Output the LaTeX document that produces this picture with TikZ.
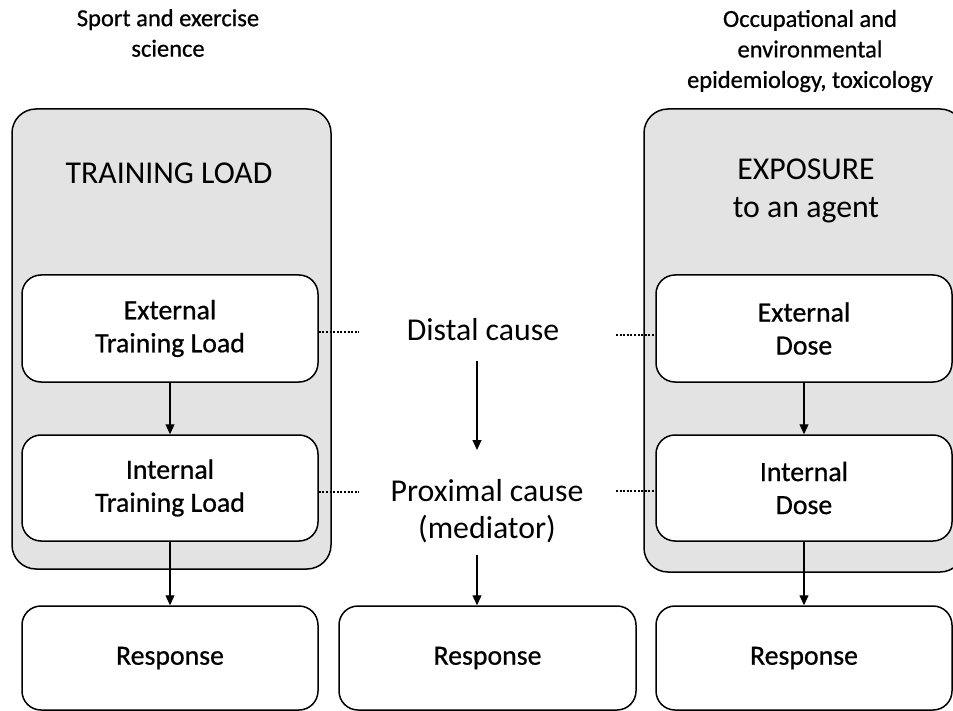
\documentclass[tikz,border=0pt]{standalone}
\usepackage{fontspec}
\setmainfont{Carlito}
\newfontfamily\medfont{Carlito}[FakeBold=0.7]
\usetikzlibrary{arrows.meta}
\definecolor{panelgray}{RGB}{227,227,227}
\begin{document}
\begin{tikzpicture}[x=1pt,y=-1pt,
  panel/.style={draw=black,line width=1.5pt,fill=panelgray,rounded corners=24pt,inner sep=0pt},
  box/.style={draw=black,line width=1.5pt,fill=white,rounded corners=19pt,inner sep=0pt,
    minimum width=296pt,align=center,font=\medfont\fontsize{27.8}{33}\selectfont},
  big/.style={align=center,font=\fontsize{31.8}{37.5}\selectfont},
  head/.style={align=center,font=\medfont\fontsize{24.5}{30.5}\selectfont},
  arr/.style={line width=1.2pt,-{Triangle[width=9pt,length=10pt]}},
  dots/.style={line width=2.2pt,dash pattern=on 2pt off 1.6pt}]
\path[use as bounding box,clip] (0,0) rectangle (953,711);
% panels
\node[panel,minimum width=319pt,minimum height=460pt] (lp) at (171.5,339) {};
\node[panel,minimum width=320pt,minimum height=463pt] (rp) at (804,340.5) {};
% headers
\node[head] (lh) at (168,33) {Sport and exercise\\science};
\node[head] (rh) at (810,51) {Occupational and\\environmental\\epidemiology, toxicology};
% panel titles
\node[big] (lt) at (169,173) {TRAINING LOAD};
\node[big] (rt) at (806,191) {EXPOSURE\\to an agent};
% inner boxes
\node[box,minimum height=107pt] (le) at (170,328.5) {External\\Training Load};
\node[box,minimum height=106pt] (li) at (170,488) {Internal\\Training Load};
\node[box,minimum height=107pt] (re) at (804,328.5) {External\\Dose};
\node[box,minimum height=106pt] (ri) at (804,488) {Internal\\Dose};
% responses
\node[box,minimum height=104pt] (lr) at (170,658) {Response};
\node[box,minimum width=297pt,minimum height=104pt] (cr) at (487.5,658) {Response};
\node[box,minimum height=104pt] (rr) at (804,658) {Response};
% middle texts
\node[big] (dc) at (483,330) {Distal cause};
\node[big] (pc) at (487,511) {Proximal cause\\(mediator)};
% arrows
\draw[arr] (le.south) -- (li.north);
\draw[arr] (li.south) -- (lr.north);
\draw[arr] (re.south) -- (ri.north);
\draw[arr] (ri.south) -- (rr.north);
\coordinate (d1) at (477,361);
\coordinate (d2) at (477,450);
\coordinate (p1) at (477,555);
\draw[arr] (d1) -- (d2);
\draw[arr] (p1) -- (p1 |- cr.north);
% dotted links
\coordinate (ld1) at (359,332);
\coordinate (ld2) at (359,492);
\coordinate (rd1) at (616,335);
\coordinate (rd2) at (616,491);
\draw[dots] (le.east |- ld1) -- (ld1);
\draw[dots] (li.east |- ld2) -- (ld2);
\draw[dots] (rd1) -- (rd1 -| re.west);
\draw[dots] (rd2) -- (rd2 -| ri.west);
\end{tikzpicture}
\end{document}
